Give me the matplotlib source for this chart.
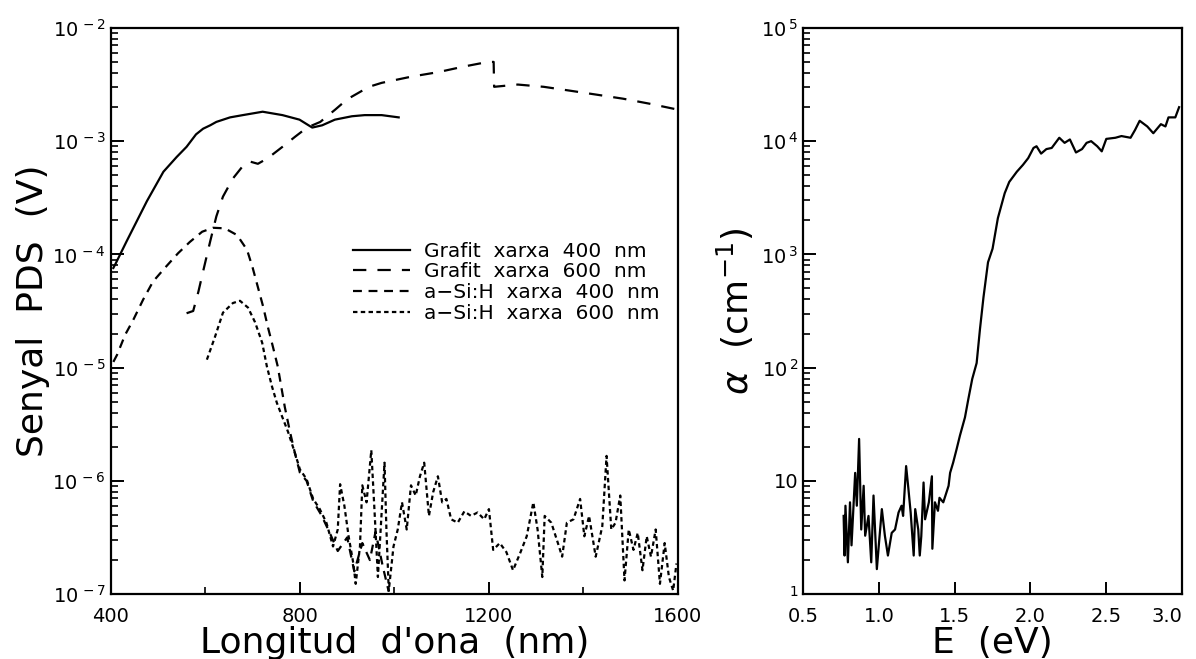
import matplotlib
matplotlib.use("Agg")
import matplotlib.pyplot as plt
import numpy as np
from matplotlib.ticker import FixedLocator, LogLocator, NullFormatter

# ---- left panel: PDS signal vs wavelength ----
graf400_nm = [405, 410, 433, 476, 511, 539, 560, 580, 595, 610, 623, 652, 679, 721, 763,
              799, 826, 847, 874, 910, 937, 973, 1009]
graf400_log = [-4.12, -4.08, -3.885, -3.53, -3.27, -3.14, -3.05, -2.94, -2.89, -2.86, -2.83,
               -2.79, -2.77, -2.74, -2.77, -2.81, -2.88, -2.86, -2.81, -2.78, -2.77, -2.77, -2.79]

graf600_nm = [560, 574, 585, 595, 610, 623, 637, 658, 679, 694, 711, 732, 763, 790, 815, 843,
              875, 900, 921, 946, 973, 1036, 1093, 1148, 1198, 1210, 1211, 1261, 1316, 1373,
              1429, 1484, 1541, 1598]
graf600_log = [-4.52, -4.50, -4.33, -4.15, -3.885, -3.665, -3.49, -3.33, -3.22, -3.18, -3.20,
               -3.15, -3.05, -2.96, -2.88, -2.83, -2.72, -2.63, -2.58, -2.52, -2.485, -2.43,
               -2.39, -2.34, -2.30, -2.30, -2.52, -2.50, -2.52, -2.555, -2.59, -2.625, -2.67, -2.72]

asi400_nm = [405, 413, 430, 447, 468, 489, 514, 542, 567, 593, 616, 641, 667, 688, 700, 711,
             722, 732, 743, 753, 768, 779, 789, 800, 814, 828, 845, 862, 880, 900, 915, 932,
             948, 960, 975, 988]
asi400_log = [-4.95, -4.886, -4.71, -4.58, -4.40, -4.24, -4.12, -3.99, -3.89, -3.80, -3.765,
              -3.77, -3.83, -3.96, -4.12, -4.29, -4.46, -4.64, -4.82, -4.99, -5.35, -5.57,
              -5.75, -5.93, -6.0, -6.18, -6.30, -6.45, -6.62, -6.50, -6.80, -6.55, -6.70,
              -6.45, -6.75, -6.98]

asi600_nm = [603, 620, 637, 658, 673, 690, 705, 720, 730, 741, 751, 762, 775, 789, 800, 814,
             828, 842, 856, 870, 880, 885, 894, 903, 913, 918, 927, 932, 941, 951, 958, 965,
             979, 983, 988, 998, 1007, 1016, 1026, 1035, 1045, 1054, 1063, 1073, 1082, 1092,
             1101, 1110, 1120, 1134, 1148, 1162, 1176, 1190, 1200, 1209, 1223, 1237, 1251,
             1266, 1280, 1294, 1303, 1313, 1318, 1332, 1346, 1355, 1365, 1379, 1393, 1402,
             1412, 1426, 1440, 1449, 1459, 1468, 1478, 1487, 1496, 1506, 1515, 1525, 1534,
             1543, 1553, 1562, 1572, 1581, 1590, 1597]
asi600_log = [-4.93, -4.73, -4.515, -4.43, -4.41, -4.47, -4.60, -4.78, -4.99, -5.17, -5.31,
              -5.43, -5.57, -5.75, -5.90, -5.985, -6.16, -6.25, -6.37, -6.58, -6.43, -6.03,
              -6.22, -6.49, -6.73, -6.91, -6.58, -6.04, -6.19, -5.73, -6.28, -6.85, -5.84,
              -6.43, -6.97, -6.58, -6.43, -6.19, -6.43, -6.04, -6.13, -5.96, -5.84, -6.31,
              -6.10, -5.96, -6.19, -6.16, -6.34, -6.37, -6.27, -6.31, -6.28, -6.34, -6.25,
              -6.61, -6.55, -6.63, -6.79, -6.64, -6.49, -6.19, -6.43, -6.85, -6.31, -6.37,
              -6.55, -6.67, -6.37, -6.34, -6.16, -6.49, -6.31, -6.67, -6.40, -5.78, -6.43,
              -6.37, -6.13, -6.88, -6.43, -6.61, -6.46, -6.79, -6.49, -6.67, -6.43, -6.91,
              -6.55, -6.85, -6.97, -6.73]

left_labels = ['Grafit  xarxa  400  nm', 'Grafit  xarxa  600  nm',
               'a\u2212Si:H  xarxa  400  nm', 'a\u2212Si:H  xarxa  600  nm']
left_xticks = [400, 800, 1200, 1600]

# ---- right panel: absorption coefficient vs energy ----
e_ev = [0.768, 0.774, 0.78, 0.796, 0.81, 0.82, 0.844, 0.855, 0.87, 0.884, 0.90, 0.91, 0.932,
        0.95, 0.965, 0.987, 0.998, 1.02, 1.04, 1.06, 1.085, 1.107, 1.13, 1.15, 1.16, 1.18,
        1.195, 1.21, 1.23, 1.24, 1.26, 1.27, 1.28, 1.295, 1.305, 1.33, 1.35, 1.353, 1.37,
        1.39, 1.40, 1.425, 1.46, 1.47, 1.49, 1.513, 1.535, 1.568, 1.59, 1.616, 1.645, 1.667,
        1.69, 1.72, 1.75, 1.785, 1.83, 1.86, 1.91, 1.95, 1.985, 2.02, 2.04, 2.07, 2.105,
        2.14, 2.19, 2.225, 2.26, 2.30, 2.34, 2.37, 2.40, 2.44, 2.47, 2.50, 2.56, 2.60, 2.66,
        2.69, 2.72, 2.77, 2.81, 2.86, 2.89, 2.91, 2.955, 2.98]
alpha_log = [0.69, 0.34, 0.78, 0.28, 0.81, 0.43, 1.07, 0.78, 1.37, 0.57, 0.956, 0.515, 0.69,
             0.28, 0.87, 0.22, 0.40, 0.75, 0.515, 0.34, 0.54, 0.57, 0.72, 0.78, 0.69, 1.13,
             0.93, 0.72, 0.34, 0.75, 0.57, 0.34, 0.51, 0.985, 0.66, 0.81, 1.04, 0.40, 0.81,
             0.735, 0.85, 0.81, 0.956, 1.07, 1.16, 1.28, 1.40, 1.56, 1.72, 1.90, 2.04, 2.34,
             2.62, 2.93, 3.05, 3.32, 3.54, 3.64, 3.73, 3.79, 3.85, 3.94, 3.955, 3.89, 3.93,
             3.94, 4.03, 3.985, 4.015, 3.90, 3.93, 3.985, 4.0, 3.955, 3.91, 4.02, 4.03, 4.045,
             4.03, 4.10, 4.18, 4.13, 4.07, 4.15, 4.13, 4.21, 4.21, 4.30]
right_xticks = [0.5, 1.0, 1.5, 2.0, 2.5, 3.0]

plt.rcParams['font.family'] = 'DejaVu Sans'
fig = plt.figure(figsize=(11.96, 6.59), dpi=100)
ax1 = fig.add_axes([0.0928, 0.0986, 0.474, 0.859])
ax2 = fig.add_axes([0.6714, 0.0986, 0.317, 0.859])

lw = 1.6
ax1.plot(graf400_nm, 10 ** np.array(graf400_log), color='black', lw=lw, label=left_labels[0])
ax1.plot(graf600_nm, 10 ** np.array(graf600_log), color='black', lw=lw,
         linestyle=(0, (6, 5)), label=left_labels[1])
ax1.plot(asi400_nm, 10 ** np.array(asi400_log), color='black', lw=lw,
         linestyle=(0, (4, 3)), label=left_labels[2])
ax1.plot(asi600_nm, 10 ** np.array(asi600_log), color='black', lw=lw,
         linestyle=(0, (2, 1.5)), label=left_labels[3])

ax1.set_yscale('log')
ax1.set_xlim(400, 1600)
ax1.set_ylim(1e-7, 1e-2)
ax1.set_xticks(left_xticks)
ax1.set_xticklabels([str(v) for v in left_xticks])
ax1.xaxis.set_minor_locator(FixedLocator([600, 1000, 1400]))
ax1.yaxis.set_major_locator(FixedLocator([10.0 ** k for k in range(-7, -1)]))
ax1.set_yticklabels([r'$10^{\,%d}$' % k for k in range(-7, -1)])
ax1.yaxis.set_minor_locator(LogLocator(base=10, subs=np.arange(2, 10)))
ax1.yaxis.set_minor_formatter(NullFormatter())
ax1.set_xlabel("Longitud  d'ona  (nm)", fontsize=26, labelpad=0)
ax1.set_ylabel('Senyal  PDS  (V)', fontsize=26, labelpad=2)

leg = ax1.legend(loc='upper left', bbox_to_anchor=(0.41, 0.64), frameon=False,
                 fontsize=14.5, handlelength=2.8, labelspacing=0.08, handletextpad=0.7,
                 borderpad=0)

ax2.plot(e_ev, 10 ** np.array(alpha_log), color='black', lw=lw)
ax2.set_yscale('log')
ax2.set_xlim(0.5, 3.0)
ax2.set_ylim(1, 1e5)
ax2.set_xticks(right_xticks)
ax2.set_xticklabels(['%.1f' % v for v in right_xticks])
ax2.yaxis.set_major_locator(FixedLocator([1, 10, 100, 1000, 1e4, 1e5]))
ax2.set_yticklabels([r'$^{1}$', '10', r'$10^{\,2}$', r'$10^{\,3}$', r'$10^{\,4}$', r'$10^{\,5}$'])
ax2.yaxis.set_minor_locator(LogLocator(base=10, subs=np.arange(2, 10)))
ax2.yaxis.set_minor_formatter(NullFormatter())
ax2.set_xlabel('E  (eV)', fontsize=26, labelpad=0)
ax2.set_ylabel(r'$\alpha$  (cm$^{-1}$)', fontsize=26, labelpad=4)

for ax in (ax1, ax2):
    for s in ax.spines.values():
        s.set_linewidth(1.6)
    ax.tick_params(which='major', direction='in', length=9, width=1.4, labelsize=14,
                   top=False, right=False)
    ax.tick_params(which='minor', direction='in', length=5, width=1.2, top=False, right=False)
    ax.tick_params(axis='x', pad=9)

# keep the last energy label inside the canvas
ax2.get_xticklabels()[-1].set_horizontalalignment('right')
ax2.get_xticklabels()[-1].set_x(3.0)

fig.savefig('out.png', dpi=100)
